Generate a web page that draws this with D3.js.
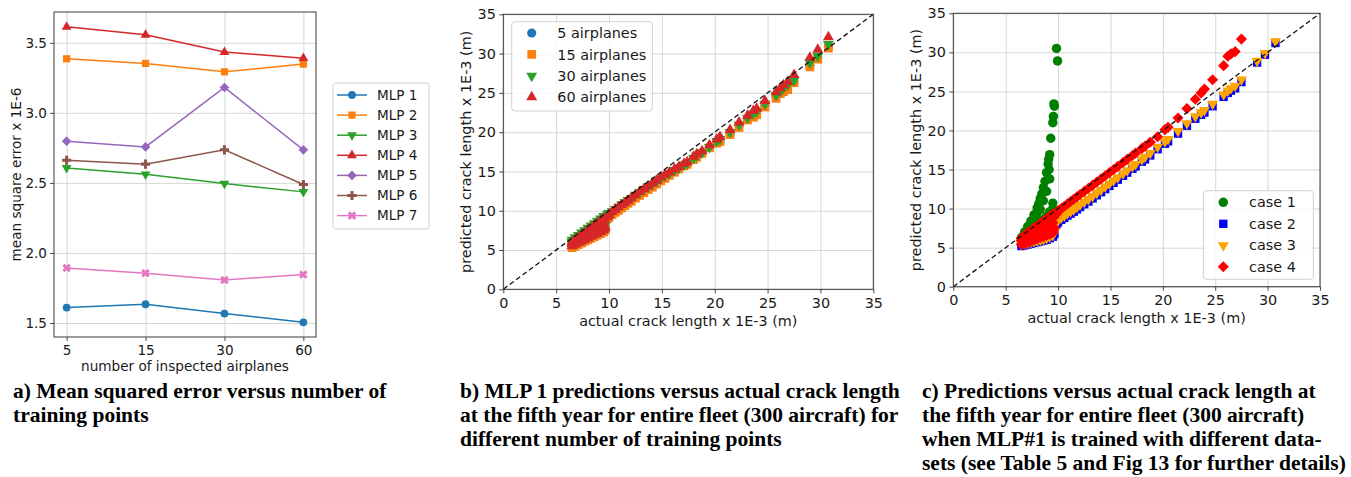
<!DOCTYPE html>
<html>
<head>
<meta charset="utf-8">
<script src="https://cdnjs.cloudflare.com/ajax/libs/d3/7.8.5/d3.min.js"></script>
<style>
  body { margin: 0; background: #fff; }
  text { font-family: "DejaVu Sans", sans-serif; fill: #1a1a1a; }
  .caption { font-family: "Liberation Serif", "Times New Roman", serif; font-weight: bold; font-size: 21.5px; fill: #000; }
</style>
</head>
<body>
<svg id="fig" width="1351" height="477"></svg>
<script>
// ---- panel a data: mean square error (x 1E-6) vs inspected airplanes
const airplanes = ["5", "15", "30", "60"];
const mlpNames = ["MLP 1", "MLP 2", "MLP 3", "MLP 4", "MLP 5", "MLP 6", "MLP 7"];
const mse1 = [1.610, 1.634, 1.567, 1.505];
const mse2 = [3.386, 3.353, 3.293, 3.348];
const mse3 = [2.607, 2.562, 2.495, 2.436];
const mse4 = [3.614, 3.557, 3.434, 3.390];
const mse5 = [2.798, 2.757, 3.181, 2.736];
const mse6 = [2.662, 2.634, 2.736, 2.489];
const mse7 = [1.893, 1.855, 1.807, 1.846];
const mseTicks = [1.5, 2.0, 2.5, 3.0, 3.5];

// ---- panels b and c: actual crack length (x 1E-3 m) of the fleet, and predictions
const actual = [
  6.5, 6.5, 6.5, 6.8, 6.8, 6.8, 7.1, 7.1, 7.1, 7.4, 7.4, 7.4, 7.7, 7.7, 7.7, 8.0, 8.0, 8.0,
  8.3, 8.3, 8.3, 8.6, 8.6, 8.6, 8.9, 8.9, 8.9, 9.2, 9.2, 9.2, 9.5, 9.5, 9.5,
  9.3, 9.55, 9.6, 9.65, 9.85, 9.95, 8.15, 8.45, 8.75, 9.05, 9.1, 9.15,
  10.0, 10.3, 10.6, 10.9, 11.2, 11.5, 11.8, 12.1, 12.5, 12.9,
  13.3, 13.7, 14.1, 14.5, 14.9, 15.3, 15.7, 16.2, 16.6, 17.1,
  17.4, 18.0, 18.3, 18.8, 19.5, 20.2, 20.5, 21.45, 22.3, 23.1,
  23.65, 23.97, 24.75, 25.8, 26.2, 26.5, 26.9, 27.5, 29.0, 29.75,
  30.75
];
const pred5 = [
  5.4, 5.7, 6.0, 5.6, 6.0, 6.3, 5.8, 6.2, 6.6, 6.0, 6.5, 6.9, 6.2, 6.7, 7.2, 6.4, 7.0, 7.5,
  6.6, 7.2, 7.8, 6.8, 7.5, 8.1, 7.0, 7.7, 8.4, 7.2, 8.0, 8.7, 7.4, 8.2, 9.0,
  8.3, 7.6, 8.7, 7.8, 9.1, 9.3, 7.1, 7.4, 7.6, 7.9, 8.3, 7.5,
  9.4, 9.7, 10.0, 10.25, 10.55, 10.85, 11.15, 11.4, 11.8, 12.15,
  12.5, 12.9, 13.2, 13.6, 14.0, 14.3, 14.65, 15.05, 15.4, 15.8,
  16.0, 16.6, 16.9, 17.4, 18.1, 18.7, 18.9, 19.8, 20.8, 21.7,
  22.1, 22.4, 23.4, 24.5, 25.0, 25.4, 25.7, 26.4, 28.5, 29.5,
  30.9
];
const pred15 = [
  5.3, 5.6, 5.9, 5.5, 5.9, 6.2, 5.7, 6.1, 6.5, 5.9, 6.4, 6.8, 6.1, 6.6, 7.1, 6.3, 6.9, 7.4,
  6.5, 7.1, 7.7, 6.7, 7.4, 8.0, 6.9, 7.6, 8.3, 7.1, 7.9, 8.6, 7.3, 8.1, 8.9,
  8.2, 7.5, 8.6, 7.7, 9.0, 9.2, 7.0, 7.3, 7.5, 7.8, 8.2, 7.4,
  9.2, 9.5, 9.8, 10.05, 10.35, 10.65, 10.95, 11.2, 11.6, 11.95,
  12.3, 12.7, 13.0, 13.4, 13.8, 14.1, 14.5, 14.9, 15.3, 15.7,
  15.9, 16.5, 16.8, 17.3, 18.0, 18.6, 18.8, 19.7, 20.6, 21.55,
  21.9, 22.2, 23.2, 24.3, 24.9, 25.15, 25.4, 26.3, 28.3, 29.3,
  30.7
];
const pred30 = [
  5.8, 6.0, 6.3, 6.0, 6.3, 6.6, 6.2, 6.5, 6.9, 6.4, 6.8, 7.2, 6.6, 7.0, 7.5, 6.8, 7.3, 7.8,
  7.0, 7.5, 8.1, 7.2, 7.8, 8.4, 7.4, 8.0, 8.7, 7.6, 8.3, 9.0, 7.8, 8.5, 9.3,
  8.7, 8.0, 9.1, 8.2, 9.5, 9.7, 7.4, 7.7, 7.9, 8.2, 8.6, 7.9,
  9.6, 9.9, 10.2, 10.5, 10.8, 11.05, 11.35, 11.6, 12.0, 12.35,
  12.7, 13.05, 13.4, 13.75, 14.1, 14.45, 14.75, 15.15, 15.45, 15.85,
  16.05, 16.7, 17.0, 17.4, 18.1, 18.85, 19.1, 20.0, 20.95, 21.8,
  22.35, 22.65, 23.6, 24.7, 25.2, 25.6, 26.0, 26.6, 28.8, 29.7,
  31.2
];
const pred60 = [
  5.5, 5.8, 6.0, 5.7, 6.1, 6.3, 5.9, 6.3, 6.6, 6.1, 6.6, 6.9, 6.3, 6.8, 7.2, 6.5, 7.1, 7.5,
  6.7, 7.3, 7.8, 6.9, 7.6, 8.1, 7.1, 7.8, 8.4, 7.3, 8.1, 8.7, 7.5, 8.3, 9.0,
  8.4, 7.7, 8.8, 7.9, 9.2, 9.4, 7.2, 7.5, 7.7, 8.0, 8.4, 7.6,
  9.55, 9.85, 10.15, 10.45, 10.75, 11.0, 11.3, 11.6, 12.0, 12.4,
  12.75, 13.1, 13.5, 13.85, 14.25, 14.6, 14.9, 15.3, 15.6, 16.0,
  16.2, 16.9, 17.2, 17.6, 18.35, 19.1, 19.4, 20.3, 21.25, 22.1,
  22.7, 23.0, 24.0, 25.1, 25.6, 26.0, 26.4, 27.3, 29.5, 30.5,
  32.1
];
const case1 = [
  5.5, 5.9, 6.3, 5.9, 6.5, 7.0, 6.3, 7.1, 7.7, 6.7, 7.7, 8.4, 7.1, 8.3, 9.2, 7.5, 9.0, 10.1,
  7.9, 9.9, 11.3, 8.4, 11.0, 12.7, 9.0, 12.2, 14.6, 9.6, 13.8, 16.9, 10.0, 10.7, 21.0,
  19.0, 21.8, 23.4, 23.1, 30.5, 28.9, 10.6, 11.9, 13.5, 15.7, 16.3, 15.0,
  null, null, null, null, null, null, null, null, null, null,
  null, null, null, null, null, null, null, null, null, null,
  null, null, null, null, null, null, null, null, null, null,
  null, null, null, null, null, null, null, null, null, null,
  null
];
const case2 = [
  5.2, 5.5, 5.8, 5.3, 5.7, 6.1, 5.4, 5.9, 6.4, 5.5, 6.1, 6.7, 5.6, 6.3, 7.0, 5.7, 6.5, 7.3,
  5.8, 6.7, 7.5, 5.9, 6.9, 7.7, 6.0, 7.1, 7.9, 6.2, 7.3, 8.1, 6.4, 7.5, 8.3,
  7.0, 6.6, 7.8, 6.8, 8.0, 8.2, 6.6, 6.8, 7.0, 7.2, 7.6, 6.9,
  8.3, 8.55, 8.8, 9.1, 9.35, 9.6, 9.9, 10.2, 10.55, 10.9,
  11.3, 11.7, 12.1, 12.5, 12.9, 13.3, 13.7, 14.2, 14.6, 15.1,
  15.4, 16.0, 16.3, 16.8, 17.6, 18.3, 18.6, 19.6, 20.6, 21.5,
  22.0, 22.3, 23.1, 24.3, 24.8, 25.1, 25.4, 26.2, 28.7, 29.7,
  31.2
];
const case3 = [
  5.4, 5.7, 6.0, 5.5, 5.9, 6.3, 5.6, 6.1, 6.6, 5.7, 6.3, 6.9, 5.8, 6.5, 7.2, 5.9, 6.7, 7.5,
  6.0, 6.9, 7.7, 6.1, 7.1, 7.9, 6.2, 7.3, 8.1, 6.4, 7.5, 8.3, 6.6, 7.7, 8.5,
  7.2, 6.8, 8.0, 7.0, 8.2, 8.4, 6.8, 7.0, 7.2, 7.4, 7.8, 7.1,
  8.6, 8.85, 9.1, 9.4, 9.65, 9.9, 10.2, 10.5, 10.85, 11.2,
  11.6, 12.0, 12.4, 12.8, 13.2, 13.6, 14.0, 14.5, 14.9, 15.4,
  15.7, 16.3, 16.6, 17.1, 17.9, 18.6, 18.9, 19.9, 20.9, 21.8,
  22.3, 22.6, 23.4, 24.6, 25.1, 25.4, 25.7, 26.5, 28.9, 29.9,
  31.4
];
const case4 = [
  5.4, 5.9, 6.2, 5.5, 6.2, 6.6, 5.7, 6.5, 6.9, 5.8, 6.7, 7.2, 6.0, 7.0, 7.5, 6.1, 7.2, 7.8,
  6.3, 7.4, 8.1, 6.4, 7.6, 8.4, 6.6, 7.8, 8.7, 6.7, 8.0, 9.0, 6.9, 8.2, 9.3,
  8.5, 7.2, 8.9, 7.5, 9.3, 9.6, 7.3, 7.5, 7.7, 7.9, 8.3, 7.6,
  9.7, 10.0, 10.3, 10.6, 10.9, 11.2, 11.5, 11.8, 12.2, 12.6,
  13.0, 13.4, 13.8, 14.2, 14.6, 15.0, 15.4, 15.9, 16.3, 16.8,
  17.1, 17.7, 18.0, 18.5, 19.2, 20.1, 20.4, 21.6, 22.8, 24.0,
  24.8, 25.3, 26.5, 28.3, 29.5, 29.8, 30.1, 31.7, null, null,
  null
];
const crackTicks = [0, 5, 10, 15, 20, 25, 30, 35];
const fleetNames = ["5 airplanes", "15 airplanes", "30 airplanes", "60 airplanes"];
const caseNames = ["case 1", "case 2", "case 3", "case 4"];

const captionA = ["a) Mean squared error versus number of", "training points"];
const captionB = ["b) MLP 1 predictions versus actual crack length",
  "at the fifth year for entire fleet (300 aircraft) for",
  "different number of training points"];
const captionC = ["c) Predictions versus actual crack length at",
  "the fifth year for entire fleet (300 aircraft)",
  "when MLP#1 is trained with different data-",
  "sets (see Table 5 and Fig 13 for further details)"];

// ---- drawing
const svg = d3.select("#fig");
const symTypes = { circle: d3.symbolCircle, square: d3.symbolSquare, triangle: d3.symbolTriangle, cross: d3.symbolCross };
function symPath(m) { return d3.symbol().type(symTypes[m.type]).size(m.size)(); }
function placeSym(sel, m, xf, yf) {
  sel.attr("d", symPath(m))
     .attr("transform", (d, i) => `translate(${xf(d, i)},${yf(d, i)}) rotate(${m.rot})`)
     .attr("fill", m.color);
}

function makeAxes(o) {
  const [xa, xb] = o.x.range();
  const [ya, yb] = o.y.range();  // ya = bottom
  const layer = { grid: svg.append("g"), marks: svg.append("g"), top: svg.append("g") };
  const gridLine = a => { a.select(".domain").remove(); a.selectAll("line").attr("stroke", "#d3d3d3").attr("stroke-width", 0.9); };
  layer.grid.append("g").attr("transform", `translate(0,${ya})`)
    .call(d3.axisBottom(o.x).tickValues(o.xTicks).tickSize(-(ya - yb)).tickFormat("")).call(gridLine);
  layer.grid.append("g").attr("transform", `translate(${xa},0)`)
    .call(d3.axisLeft(o.y).tickValues(o.yTicks).tickSize(-(xb - xa)).tickFormat("")).call(gridLine);

  const styleAxis = a => {
    a.select(".domain").remove();
    a.selectAll("line").attr("stroke", "#333").attr("stroke-width", 0.9);
    a.selectAll("text").style("font-size", o.fs + "px").style("font-family", "DejaVu Sans").attr("fill", "#1a1a1a");
  };
  layer.top.append("rect").attr("x", xa).attr("y", yb).attr("width", xb - xa).attr("height", ya - yb)
    .attr("fill", "none").attr("stroke", "#3a3a3a").attr("stroke-width", 1);
  layer.top.append("g").attr("transform", `translate(0,${ya})`)
    .call(d3.axisBottom(o.x).tickValues(o.xTicks).tickSize(4).tickPadding(o.xpad).tickFormat(o.xFmt)).call(styleAxis);
  layer.top.append("g").attr("transform", `translate(${xa},0)`)
    .call(d3.axisLeft(o.y).tickValues(o.yTicks).tickSize(4).tickPadding(o.ypad).tickFormat(o.yFmt)).call(styleAxis);
  layer.top.append("text").attr("x", (xa + xb) / 2).attr("y", o.xlabY).attr("text-anchor", "middle")
    .style("font-size", o.fs + "px").text(o.xlabel);
  layer.top.append("text").attr("transform", `translate(${o.ylabX},${(ya + yb) / 2}) rotate(-90)`)
    .attr("text-anchor", "middle").style("font-size", o.fs + "px").text(o.ylabel);
  return layer;
}

function legendBox(g, box, items, fs, lineLen) {
  g.append("rect").attr("x", box.x).attr("y", box.y).attr("width", box.w).attr("height", box.h)
    .attr("rx", 3).attr("fill", "#fff").attr("fill-opacity", 0.8).attr("stroke", "#d0d0d0").attr("stroke-width", 1);
  items.forEach((it, i) => {
    const cy = box.y0 + i * box.dy;
    if (lineLen) {
      g.append("line").attr("x1", box.mx - lineLen / 2).attr("x2", box.mx + lineLen / 2)
        .attr("y1", cy).attr("y2", cy).attr("stroke", it.m.color).attr("stroke-width", 1.5);
    }
    g.append("path").datum(0).call(placeSym, it.m, () => box.mx, () => cy);
    g.append("text").attr("x", box.tx).attr("y", cy + fs * 0.36).style("font-size", fs + "px").text(it.name);
  });
}

// ---------- panel a
{
  const x = d3.scalePoint().domain(airplanes).range([54, 316]).padding(0.16);
  const y = d3.scaleLinear().domain([1.40, 3.72]).range([337, 12]);
  const L = makeAxes({ x, y, xTicks: airplanes, yTicks: mseTicks, xFmt: d => d, yFmt: d3.format(".1f"),
    fs: 13.6, xpad: 4, ypad: 3, xlabel: "number of inspected airplanes", xlabY: 371,
    ylabel: "mean square error x 1E-6", ylabX: 21 });
  const mseData = [mse1, mse2, mse3, mse4, mse5, mse6, mse7];
  const tab = ["#1f77b4", "#ff7f0e", "#2ca02c", "#d62728", "#9467bd", "#8c564b", "#e377c2"];
  const mk = [
    { type: "circle", size: 48, rot: 0 }, { type: "square", size: 52, rot: 0 },
    { type: "triangle", size: 42, rot: 180 }, { type: "triangle", size: 42, rot: 0 },
    { type: "square", size: 46, rot: 45 }, { type: "cross", size: 46, rot: 0 },
    { type: "cross", size: 46, rot: 45 }];
  mk.forEach((m, i) => m.color = tab[i]);
  const line = d3.line().x((d, j) => x(airplanes[j])).y(d => y(d));
  mseData.forEach((vals, i) => {
    const g = L.marks.append("g");
    g.append("path").attr("d", line(vals)).attr("fill", "none").attr("stroke", tab[i]).attr("stroke-width", 1.5);
    g.selectAll("path.pt").data(vals).join("path").attr("class", "pt")
      .call(placeSym, mk[i], (d, j) => x(airplanes[j]), d => y(d));
  });
  legendBox(svg.append("g"), { x: 333, y: 83, w: 96, h: 146, y0: 95, dy: 20.1, mx: 352, tx: 377 },
    mlpNames.map((n, i) => ({ name: n, m: mk[i] })), 13.6, 30);
}

// ---------- scatter panels
function scatterPanel(xr, yr, series, names, legend, labs) {
  const x = d3.scaleLinear().domain([0, 35]).range(xr);
  const y = d3.scaleLinear().domain([0, 35]).range(yr);
  const L = makeAxes({ x, y, xTicks: crackTicks, yTicks: crackTicks, xFmt: d3.format("d"), yFmt: d3.format("d"),
    fs: 14.4, xpad: 4.5, ypad: 3.5, xlabel: "actual crack length x 1E-3 (m)", xlabY: labs.xlabY,
    ylabel: "predicted crack length x 1E-3 (m)", ylabX: labs.ylabX });
  series.forEach(s => {
    const pts = actual.map((a, i) => [a, s.vals[i]]).filter(p => p[1] != null);
    L.marks.append("g").selectAll("path").data(pts).join("path")
      .call(placeSym, s.m, d => x(d[0]), d => y(d[1]));
  });
  L.marks.append("line").attr("x1", x(0)).attr("y1", y(0)).attr("x2", x(35)).attr("y2", y(35))
    .attr("stroke", "#111").attr("stroke-width", 1.3).attr("stroke-dasharray", "5,3");
  legendBox(svg.append("g"), legend, series.map((s, i) => ({ name: names[i], m: s.m })), 14.4, 0);
}

scatterPanel([503.3, 873.3], [289.3, 14.3], [
  { vals: pred5, m: { type: "circle", size: 66, rot: 0, color: "#1f77b4" } },
  { vals: pred15, m: { type: "square", size: 76, rot: 0, color: "#ff7f0e" } },
  { vals: pred30, m: { type: "triangle", size: 52, rot: 180, color: "#2ca02c" } },
  { vals: pred60, m: { type: "triangle", size: 52, rot: 0, color: "#d62728" } }
], fleetNames, { x: 511.7, y: 21.7, w: 140.6, h: 89.3, y0: 33, dy: 21.4, mx: 531.7, tx: 557.3 },
  { xlabY: 325.5, ylabX: 471 });

scatterPanel([953.3, 1320], [286.7, 13.3], [
  { vals: case1, m: { type: "circle", size: 70, rot: 0, color: "#008000" } },
  { vals: case2, m: { type: "square", size: 70, rot: 0, color: "#0000ff" } },
  { vals: case3, m: { type: "triangle", size: 52, rot: 180, color: "#ffa500" } },
  { vals: case4, m: { type: "square", size: 62, rot: 45, color: "#ff0000" } }
], caseNames, { x: 1203.3, y: 190.7, w: 110, h: 88.6, y0: 202.3, dy: 21.5, mx: 1223.3, tx: 1249 },
  { xlabY: 322.5, ylabX: 921 });

// ---------- captions
[[captionA, 13], [captionB, 460], [captionC, 922]].forEach(([lines, x0]) => {
  const t = svg.append("text").attr("class", "caption");
  lines.forEach((s, i) => t.append("tspan").attr("x", x0).attr("y", 398 + i * 24).text(s));
});
</script>
</body>
</html>
